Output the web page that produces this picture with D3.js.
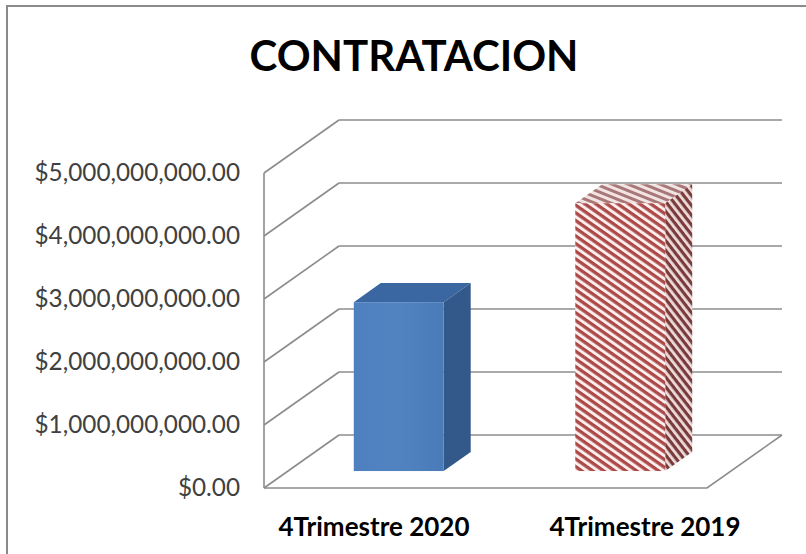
<!DOCTYPE html>
<html>
<head>
<meta charset="utf-8">
<script src="https://cdn.jsdelivr.net/npm/d3@7"></script>
<style>
  html, body { margin: 0; padding: 0; background: #ffffff; }
  svg { display: block; }
</style>
</head>
<body>
<svg id="chart" width="806" height="554"></svg>
<script>
// ---- data ----
const chartTitle = "CONTRATACION";
const categories = ["4Trimestre 2020", "4Trimestre 2019"];
const values = [2680000000, 4250000000];
const tickValues = [0, 1000000000, 2000000000, 3000000000, 4000000000, 5000000000];
const tickLabels = ["$0.00", "$1,000,000,000.00", "$2,000,000,000.00", "$3,000,000,000.00", "$4,000,000,000.00", "$5,000,000,000.00"];

// ---- layout ----
const W = 806, H = 554;
const plot = { left: 264, right: 707, top: 173, bottom: 488 };
const depth = { dx: 75, dy: -53 };
const barDepth = [0.32, 0.68];

const svg = d3.select("#chart");

const x = d3.scaleBand().domain(categories).range([plot.left, plot.right])
  .paddingInner(0.594).paddingOuter(0.297);
const y = d3.scaleLinear().domain([0, 5000000000]).range([plot.bottom, plot.top]);
const labelX = d3.scalePoint().domain(categories).range([374, 645]);

const P = (px, py, z) => [px + depth.dx * z, py + depth.dy * z];
const poly = pts => "M" + pts.map(p => p.join(",")).join("L") + "Z";
const line = pts => "M" + pts.map(p => p.join(",")).join("L");

// ---- defs ----
const defs = svg.append("defs");
function stripes(id, bg, fg, period, thick, angle) {
  const p = defs.append("pattern").attr("id", id).attr("patternUnits", "userSpaceOnUse")
    .attr("width", 10).attr("height", period)
    .attr("patternTransform", `rotate(${angle})`);
  p.append("rect").attr("width", 10).attr("height", period).attr("fill", bg);
  p.append("rect").attr("width", 10).attr("height", thick).attr("fill", fg);
}
stripes("redFront", "#fcefee", "#ab4a48", 6.3, 3.3, 35);
stripes("redSide", "#eedcdc", "#7a3b3b", 6.0, 3.2, 52);
stripes("redTop", "#f3e4e4", "#a87878", 6.0, 3.0, 22);
const g1 = defs.append("linearGradient").attr("id", "blueFront").attr("x1", 0).attr("x2", 1).attr("y1", 0).attr("y2", 0);
g1.append("stop").attr("offset", 0).attr("stop-color", "#4e7fbf");
g1.append("stop").attr("offset", 0.5).attr("stop-color", "#5283c1");
g1.append("stop").attr("offset", 1).attr("stop-color", "#4a7ab8");

// ---- outer border ----
svg.append("rect").attr("x", 7).attr("y", 6).attr("width", 820).attr("height", 570)
  .attr("fill", "none").attr("stroke", "#8a8a8a").attr("stroke-width", 2);

// ---- title ----
svg.append("text").attr("x", 414).attr("y", 71).attr("text-anchor", "middle")
  .attr("font-family", "Lato, 'Open Sans', sans-serif").attr("font-weight", "bold")
  .attr("font-size", 42).attr("fill", "#000").text(chartTitle);

// ---- walls / gridlines ----
const grid = svg.append("g").attr("fill", "none").attr("stroke", "#8c8c8c").attr("stroke-width", 1.6);
tickValues.forEach(v => {
  grid.append("path").attr("d", line([P(plot.left, y(v), 0), P(plot.left, y(v), 1)]));
  grid.append("path").attr("d", line([P(plot.left, y(v), 1), P(plot.right, y(v), 1)]));
});
grid.append("path").attr("d", line([P(plot.left, y(5000000000), 0), P(plot.left, y(0), 0)]));
grid.append("path").attr("d", line([P(plot.left, y(0), 0), P(plot.right, y(0), 0), P(plot.right, y(0), 1)]));

// ---- y axis labels ----
const axis = d3.axisLeft(y).tickValues(tickValues)
  .tickFormat((d, i) => tickLabels[i]).tickSize(0).tickPadding(24);
const ax = svg.append("g").attr("transform", `translate(${plot.left},0)`).call(axis);
ax.select(".domain").remove();
ax.selectAll("text").attr("font-family", "Lato, 'Open Sans', sans-serif")
  .attr("font-size", 24.3).attr("fill", "#404040");

// ---- bars ----
const fills = [
  { front: "url(#blueFront)", side: "#33598a", top: "#3a66a2" },
  { front: "url(#redFront)", side: "url(#redSide)", top: "url(#redTop)" }
];
const bars = svg.append("g");
categories.forEach((c, i) => {
  const x0 = x(c), x1 = x(c) + x.bandwidth();
  const yb = y(0), yt = y(values[i]);
  const [z0, z1] = barDepth;
  const g = bars.append("g");
  g.append("path").attr("d", poly([P(x0, yt, z0), P(x1, yt, z0), P(x1, yt, z1), P(x0, yt, z1)]))
    .attr("fill", fills[i].top);
  g.append("path").attr("d", poly([P(x1, yt, z0), P(x1, yb, z0), P(x1, yb, z1), P(x1, yt, z1)]))
    .attr("fill", fills[i].side);
  const f0 = P(x0, yt, z0), f1 = P(x1, yb, z0);
  g.append("rect").attr("x", f0[0]).attr("y", f0[1]).attr("width", f1[0] - f0[0]).attr("height", f1[1] - f0[1])
    .attr("fill", fills[i].front);
});

// ---- category labels ----
svg.append("g").selectAll("text").data(categories).join("text")
  .attr("x", d => labelX(d)).attr("y", 536).attr("text-anchor", "middle")
  .attr("font-family", "Lato, 'Open Sans', sans-serif").attr("font-weight", "bold")
  .attr("font-size", 26).attr("fill", "#000").text(d => d);
</script>
</body>
</html>
